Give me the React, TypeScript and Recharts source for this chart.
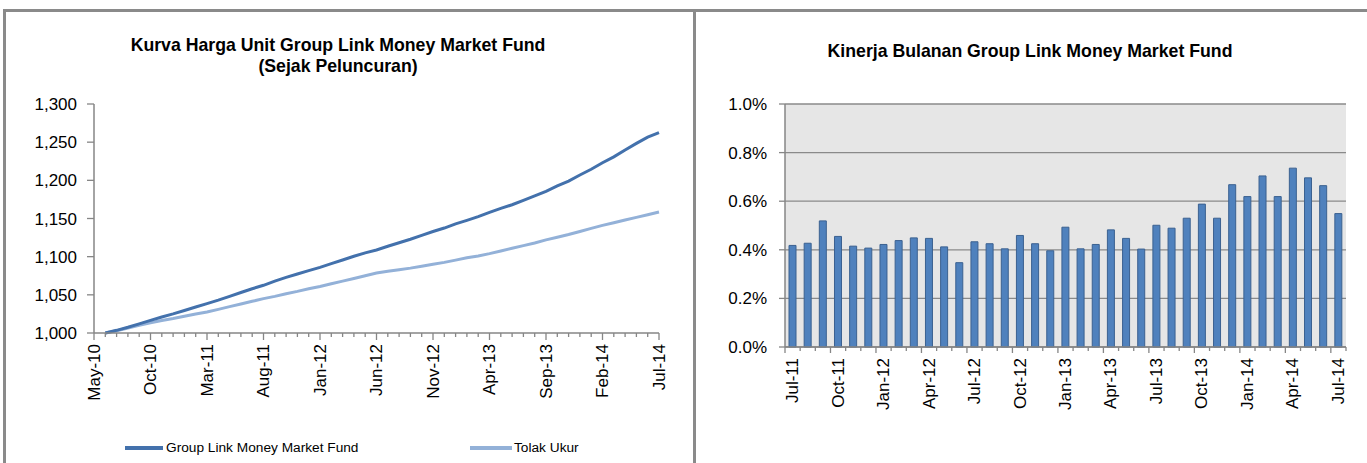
import React from 'react';
import { LineChart, Line, XAxis, YAxis, BarChart, Bar, CartesianGrid } from 'recharts';

const FONT = "'Liberation Sans', Arial, sans-serif";

// ---------- Left chart: unit price curve ----------
const priceMonthIndex = [
  1, 2, 3, 4, 5, 6, 7, 8, 9, 10, 11, 12, 13, 14, 15, 16, 17, 18, 19, 20, 21, 22, 23, 24, 25,
  26, 27, 28, 29, 30, 31, 32, 33, 34, 35, 36, 37, 38, 39, 40, 41, 42, 43, 44, 45, 46, 47, 48, 49, 50,
];
const groupLinkValues = [
  1000, 1003.5, 1007.5, 1012, 1016.5, 1021, 1025, 1029.5, 1034, 1038.5, 1043, 1048, 1053, 1058, 1062.5,
  1068, 1072.9, 1077.3, 1081.7, 1086, 1090.8, 1095.6, 1100.5, 1105, 1108.8, 1113.6, 1118.3, 1122.8,
  1128, 1133, 1137.5, 1143, 1147.6, 1152.4, 1158, 1163.2, 1168, 1173.8, 1179.6, 1185.6, 1192.6, 1199,
  1207, 1214.5, 1223, 1230.8, 1239.8, 1248.4, 1256.6, 1262.5,
];
const tolakUkurValues = [
  1000, 1003, 1006.5, 1010, 1013.5, 1016.5, 1019, 1022, 1025, 1027.5, 1031, 1034.5, 1038, 1041.5, 1045,
  1048, 1051.5, 1054.5, 1058, 1061, 1064.5, 1068, 1071.5, 1075, 1078.5, 1081, 1083, 1085, 1087.5, 1090,
  1092.5, 1095.5, 1098.5, 1101, 1104, 1107.5, 1111, 1114.5, 1118, 1122, 1125.5, 1129, 1133, 1137, 1141,
  1144.5, 1148, 1151.5, 1155, 1158.5,
];
const priceTickLabels = [
  'May-10', 'Oct-10', 'Mar-11', 'Aug-11', 'Jan-12', 'Jun-12', 'Nov-12', 'Apr-13', 'Sep-13', 'Feb-14', 'Jul-14',
];
const priceYTicks = [1000, 1050, 1100, 1150, 1200, 1250, 1300];
const seriesNames = ['Group Link Money Market Fund', 'Tolak Ukur'];

// ---------- Right chart: monthly performance ----------
const perfMonths = [
  'Jul-11', 'Aug-11', 'Sep-11', 'Oct-11', 'Nov-11', 'Dec-11', 'Jan-12', 'Feb-12', 'Mar-12', 'Apr-12',
  'May-12', 'Jun-12', 'Jul-12', 'Aug-12', 'Sep-12', 'Oct-12', 'Nov-12', 'Dec-12', 'Jan-13', 'Feb-13',
  'Mar-13', 'Apr-13', 'May-13', 'Jun-13', 'Jul-13', 'Aug-13', 'Sep-13', 'Oct-13', 'Nov-13', 'Dec-13',
  'Jan-14', 'Feb-14', 'Mar-14', 'Apr-14', 'May-14', 'Jun-14', 'Jul-14',
];
const perfValues = [
  0.418, 0.427, 0.519, 0.455, 0.415, 0.407, 0.422, 0.438, 0.449, 0.447, 0.412, 0.347, 0.433, 0.425,
  0.404, 0.459, 0.425, 0.396, 0.493, 0.404, 0.422, 0.482, 0.447, 0.403, 0.501, 0.489, 0.53, 0.588,
  0.53, 0.668, 0.619, 0.704, 0.619, 0.736, 0.696, 0.664, 0.549,
];
const perfYTicks = [0, 0.2, 0.4, 0.6, 0.8, 1.0];

const priceData = priceMonthIndex.map((m, i) => ({ m, gl: groupLinkValues[i], tu: tolakUkurValues[i] }));
const perfData = perfMonths.map((month, i) => ({ month, v: perfValues[i] }));
const priceAllTicks = Array.from({ length: priceTickLabels.length * 5 - 4 }, (_, i) => i);

const AXIS = '#868686';
const GL_COLOR = '#4371AC';
const TU_COLOR = '#93B1D8';

// layout constants
const R_PLOT_W = 1346 - 785;
const R_STEP = R_PLOT_W / perfMonths.length;

const PriceTick = (props: any) => {
  const { x, y, payload } = props;
  const v = payload.value as number;
  const major = v % 5 === 0;
  return (
    <g>
      <line x1={x} x2={x} y1={y} y2={y + (major ? 7 : 4)} stroke={AXIS} strokeWidth={1.3} />
      {major && (
        <text
          transform={`translate(${x},${y + 11}) rotate(-90)`}
          textAnchor="end"
          dominantBaseline="central"
          fontFamily={FONT}
          fontSize={17}
          fill="#000"
        >
          {priceTickLabels[v / 5]}
        </text>
      )}
    </g>
  );
};

const PerfTick = (props: any) => {
  const { x, y, payload, index } = props;
  const i = typeof index === 'number' ? index : perfMonths.indexOf(payload.value);
  const major = i % 3 === 0;
  const bx = x - R_STEP / 2;
  return (
    <g>
      <line x1={bx} x2={bx} y1={y} y2={y + (major ? 6 : 4)} stroke={AXIS} strokeWidth={1.3} />
      {i === perfMonths.length - 1 && (
        <line x1={x + R_STEP / 2} x2={x + R_STEP / 2} y1={y} y2={y + 4} stroke={AXIS} strokeWidth={1.3} />
      )}
      {major && (
        <text
          transform={`translate(${x},${y + 11}) rotate(-90)`}
          textAnchor="end"
          dominantBaseline="central"
          fontFamily={FONT}
          fontSize={17}
          fill="#000"
        >
          {payload.value}
        </text>
      )}
    </g>
  );
};

const border = (left: number, top: number, width: number, height: number) => (
  <div
    style={{
      position: 'absolute',
      left,
      top,
      width,
      height,
      background: '#8a8a8a',
    }}
  />
);

export default function App() {
  return (
    <div
      style={{
        position: 'absolute',
        left: 0,
        top: 0,
        width: 1367,
        height: 463,
        background: '#fff',
        overflow: 'hidden',
        fontFamily: FONT,
      }}
    >
      {border(3, 9, 1364, 3)}
      {border(3, 9, 3, 454)}
      {border(693, 9, 3, 454)}

      {/* Left title */}
      <div
        style={{
          position: 'absolute',
          left: 88,
          width: 500,
          top: 35,
          textAlign: 'center',
          fontWeight: 'bold',
          fontSize: 17.7,
          lineHeight: '21px',
          color: '#000',
        }}
      >
        Kurva Harga Unit Group Link Money Market Fund
        <br />
        (Sejak Peluncuran)
      </div>

      <div style={{ position: 'absolute', left: 0, top: 0 }}>
        <LineChart
          width={694}
          height={463}
          data={priceData}
          margin={{ top: 104, right: 35, bottom: 0, left: 34 }}
        >
          <XAxis
            type="number"
            dataKey="m"
            domain={[0, 50]}
            ticks={priceAllTicks}
            interval={0}
            height={130}
            tickLine={false}
            tickSize={0}
            tickMargin={0}
            axisLine={{ stroke: AXIS, strokeWidth: 1.5 }}
            tick={<PriceTick />}
          />
          <YAxis
            type="number"
            domain={[1000, 1300]}
            ticks={priceYTicks}
            interval={0}
            width={60}
            tickSize={7}
            tickMargin={10}
            tickLine={{ stroke: AXIS, strokeWidth: 1.3 }}
            axisLine={{ stroke: AXIS, strokeWidth: 1.5 }}
            tick={{ fontFamily: FONT, fontSize: 17, fill: '#000' }}
            tickFormatter={(v: number) => v.toLocaleString('en-US')}
          />
          <Line
            type="linear"
            dataKey="tu"
            stroke={TU_COLOR}
            strokeWidth={3}
            dot={false}
            isAnimationActive={false}
          />
          <Line
            type="linear"
            dataKey="gl"
            stroke={GL_COLOR}
            strokeWidth={3}
            dot={false}
            isAnimationActive={false}
          />
        </LineChart>
      </div>

      {/* Left legend */}
      <div style={{ position: 'absolute', left: 125, top: 446, width: 38, height: 4, background: GL_COLOR }} />
      <div style={{ position: 'absolute', left: 166, top: 439, fontSize: 13.7, lineHeight: '18px', color: '#000' }}>
        {seriesNames[0]}
      </div>
      <div style={{ position: 'absolute', left: 470, top: 446, width: 42, height: 4, background: TU_COLOR }} />
      <div style={{ position: 'absolute', left: 514, top: 439, fontSize: 13.7, lineHeight: '18px', color: '#000' }}>
        {seriesNames[1]}
      </div>

      {/* Right title */}
      <div
        style={{
          position: 'absolute',
          left: 780,
          width: 500,
          top: 41,
          textAlign: 'center',
          fontWeight: 'bold',
          fontSize: 17.7,
          lineHeight: '21px',
          color: '#000',
        }}
      >
        Kinerja Bulanan Group Link Money Market Fund
      </div>

      <div style={{ position: 'absolute', left: 694, top: 0 }}>
        <BarChart
          width={673}
          height={463}
          data={perfData}
          margin={{ top: 104, right: 21, bottom: 0, left: 31 }}
          barCategoryGap={0}
        >
          <CartesianGrid
            vertical={false}
            fill="#E6E6E6"
            stroke="#8A8A8A"
            strokeWidth={1.3}
            horizontalValues={perfYTicks}
          />
          <XAxis
            dataKey="month"
            type="category"
            interval={0}
            height={116}
            tickLine={false}
            tickSize={0}
            tickMargin={0}
            axisLine={{ stroke: AXIS, strokeWidth: 1.5 }}
            tick={<PerfTick />}
          />
          <YAxis
            type="number"
            domain={[0, 1]}
            ticks={perfYTicks}
            interval={0}
            width={60}
            tickSize={6}
            tickMargin={12}
            tickLine={{ stroke: AXIS, strokeWidth: 1.3 }}
            axisLine={{ stroke: AXIS, strokeWidth: 1.5 }}
            tick={{ fontFamily: FONT, fontSize: 17, fill: '#000' }}
            tickFormatter={(v: number) => v.toFixed(1) + '%'}
          />
          <Bar
            dataKey="v"
            fill="#4F81BD"
            stroke="#3B6190"
            strokeWidth={1}
            barSize={7}
            isAnimationActive={false}
          />
        </BarChart>
      </div>
    </div>
  );
}
